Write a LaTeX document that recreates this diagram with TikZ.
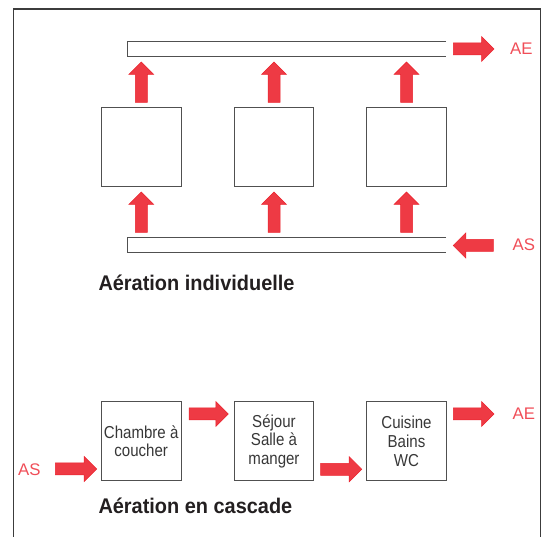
\documentclass[tikz,border=0pt]{standalone}
\usepackage{fontspec}
\setmainfont{Liberation Sans}
\newfontfamily\roomfont[FakeStretch=0.87]{Liberation Sans}
\newfontfamily\titlefont[FakeStretch=0.94]{Liberation Sans}
\definecolor{arrowred}{RGB}{238,58,68}
\definecolor{arrowedge}{RGB}{235,35,45}
\definecolor{labelred}{RGB}{240,78,88}
\definecolor{boxgray}{RGB}{80,80,80}
\definecolor{framegray}{RGB}{60,60,60}
\definecolor{titlegray}{RGB}{35,31,32}
\definecolor{textgray}{RGB}{55,55,55}
\newcommand{\redarrow}[4]{%
  \begin{scope}[shift={(#1,#2)}, rotate=#3]
    \filldraw[blockarr] (0,-6) -- (#4-12.5,-6) -- (#4-12.5,-12.5) -- (#4,0)
      -- (#4-12.5,12.5) -- (#4-12.5,6) -- (0,6) -- cycle;
  \end{scope}}
\begin{document}
\begin{tikzpicture}[x=1pt,y=-1pt,
  blockarr/.style={fill=arrowred, draw=arrowedge, line width=0.5pt, line join=miter},
  room/.style={draw=boxgray, line width=0.9pt, minimum width=79.7pt, minimum height=79.3pt,
    inner sep=0pt, align=center, text=textgray,
    font=\roomfont\fontsize{17.3}{18.8}\selectfont},
  bar/.style={draw=boxgray, line width=0.9pt},
  redlabel/.style={text=labelred, inner sep=0pt, anchor=base west,
    font=\fontsize{16.8}{19}\selectfont},
  title/.style={text=titlegray, inner sep=0pt, anchor=base west,
    font=\titlefont\fontsize{21.2}{24}\selectfont\bfseries}]
\useasboundingbox (0,0) rectangle (547,537);
% frame
\draw[framegray, line width=1.3pt] (13.3,537) -- (13.3,9) -- (540.5,9) -- (540.5,537);
% bars
\draw[bar] (446,41) -- (127.7,41) -- (127.7,56.3) -- (446,56.3);
\draw[bar] (446,237.3) -- (127.7,237.3) -- (127.7,252.6) -- (446,252.6);
% rooms (individual)
\node[room] (i1) at (141.2,146.7) {};
\node[room] (i2) at (274,146.7) {};
\node[room] (i3) at (406.5,146.7) {};
% up arrows
\redarrow{141.3}{102.3}{90}{40.3}
\redarrow{274}{102.3}{90}{40.3}
\redarrow{406.5}{102.3}{90}{40.3}
\redarrow{141.3}{232.3}{90}{40.3}
\redarrow{274}{232.3}{90}{40.3}
\redarrow{406.5}{232.3}{90}{40.3}
% AE / AS individual
\redarrow{453.3}{49}{0}{40.7}
\redarrow{493.3}{245.5}{180}{40}
\node[redlabel] (ae1) at (510,55) {AE};
\node[redlabel] (as1) at (512.5,250.5) {AS};
\node[title] (t1) at (98.3,291) {Aération individuelle};
% cascade
\node[room] (c1) at (141.2,441.2) {Chambre à\\[-1.4pt]coucher};
\node[room] (c2) at (274,441.3) {Séjour\\Salle à\\manger};
\node[room] (c3) at (406.5,441.3) {Cuisine\\Bains\\WC};
\redarrow{55.3}{469}{0}{41.4}
\redarrow{189}{414}{0}{39.3}
\redarrow{320.7}{469.3}{0}{41}
\redarrow{453.3}{414}{0}{40.7}
\node[redlabel] (as2) at (18,475.5) {AS};
\node[redlabel] (ae2) at (512.5,419.5) {AE};
\node[title] (t2) at (98.3,513.3) {Aération en cascade};
\end{tikzpicture}
\end{document}
